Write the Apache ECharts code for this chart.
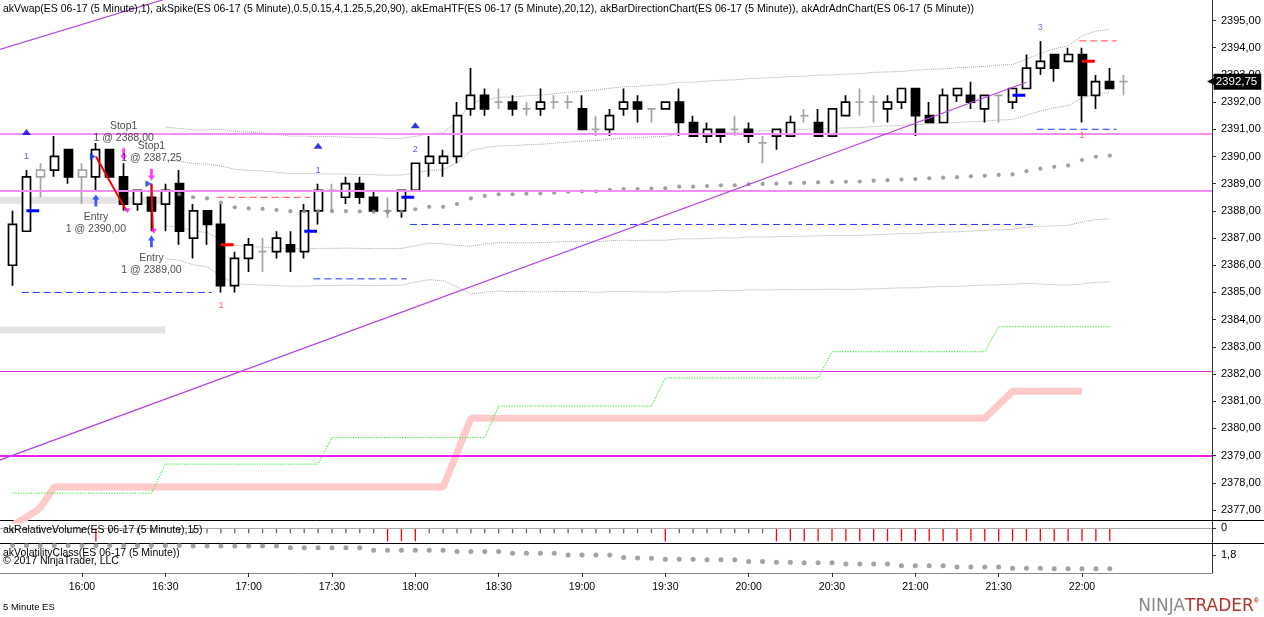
<!DOCTYPE html>
<html><head><meta charset="utf-8"><title>ES 06-17 (5 Minute)</title>
<script src="https://cdn.jsdelivr.net/npm/echarts@6.0.0/dist/echarts.min.js"></script>
<style>html,body{margin:0;padding:0;background:#fff;}#chart{width:1264px;height:617px;}</style>
</head><body><div id="chart"></div>
<script>
// ================= DATA =================
const firstBar = '15:35';          // time of first 5-minute bar
const ohlc = [                       // [open, high, low, close]
[2386.00,2388.00,2385.25,2387.50],[2387.25,2389.50,2387.25,2389.25],[2389.25,2389.75,2388.50,2389.50],
[2389.50,2390.75,2389.25,2390.00],[2390.25,2390.25,2389.00,2389.25],[2389.25,2389.75,2388.25,2389.50],
[2389.25,2390.50,2388.75,2390.25],[2390.25,2390.25,2389.25,2389.25],[2389.25,2389.75,2388.00,2388.25],
[2388.25,2388.75,2388.00,2388.75],[2388.50,2389.00,2387.25,2388.00],[2388.25,2389.00,2387.25,2388.75],
[2389.00,2389.50,2386.75,2387.25],[2387.00,2388.25,2386.25,2388.00],[2388.00,2388.00,2386.75,2387.50],
[2387.50,2388.25,2385.00,2385.25],[2385.25,2386.50,2385.00,2386.25],[2386.25,2387.00,2385.75,2386.75],
[2386.50,2387.00,2385.75,2386.50],[2386.50,2387.25,2386.25,2387.00],[2386.75,2387.25,2385.75,2386.50],
[2386.50,2388.25,2386.25,2388.00],[2388.00,2389.00,2387.50,2388.75],[2388.75,2389.00,2388.00,2388.75],
[2388.50,2389.25,2388.25,2389.00],[2389.00,2389.25,2388.25,2388.50],[2388.50,2388.75,2388.00,2388.00],
[2388.00,2388.50,2387.75,2388.00],[2388.00,2388.75,2387.75,2388.75],[2388.75,2389.75,2388.75,2389.75],
[2389.75,2390.75,2389.25,2390.00],[2389.75,2390.25,2389.25,2390.00],[2390.00,2392.00,2389.75,2391.50],
[2391.75,2393.25,2391.50,2392.25],[2392.25,2392.50,2391.50,2391.75],[2392.00,2392.50,2391.75,2392.00],
[2392.00,2392.25,2391.50,2391.75],[2391.75,2392.00,2391.50,2391.75],[2391.75,2392.50,2391.50,2392.00],
[2392.00,2392.25,2391.75,2392.00],[2392.00,2392.25,2391.75,2392.00],[2391.75,2392.25,2391.00,2391.00],
[2391.00,2391.50,2390.75,2391.00],[2391.00,2391.75,2390.75,2391.50],[2391.75,2392.50,2391.50,2392.00],
[2392.00,2392.25,2391.25,2391.75],[2391.75,2391.75,2391.25,2391.75],[2391.75,2392.00,2391.75,2392.00],
[2392.00,2392.50,2390.75,2391.25],[2391.25,2391.50,2390.75,2390.75],[2390.75,2391.25,2390.50,2391.00],
[2391.00,2391.00,2390.50,2390.75],[2391.00,2391.50,2390.75,2391.00],[2391.00,2391.25,2390.50,2390.75],
[2390.50,2390.75,2389.75,2390.50],[2390.75,2391.00,2390.25,2391.00],[2390.75,2391.50,2390.75,2391.25],
[2391.50,2391.75,2391.25,2391.50],[2391.25,2391.75,2390.75,2390.75],[2390.75,2391.75,2390.75,2391.75],
[2391.50,2392.25,2391.50,2392.00],[2392.00,2392.50,2391.50,2392.00],[2392.00,2392.25,2391.25,2392.00],
[2391.75,2392.25,2391.25,2392.00],[2392.00,2392.50,2391.75,2392.50],[2392.50,2392.50,2390.75,2391.50],
[2391.50,2392.00,2391.25,2391.25],[2391.25,2392.50,2391.25,2392.25],[2392.25,2392.50,2392.00,2392.50],
[2392.25,2392.75,2391.75,2392.00],[2391.75,2392.25,2391.25,2392.25],[2392.25,2392.25,2391.25,2392.25],
[2392.00,2392.50,2391.75,2392.50],[2392.50,2393.75,2392.50,2393.25],[2393.25,2394.25,2393.00,2393.50],
[2393.75,2393.75,2392.75,2393.25],[2393.50,2394.00,2393.50,2393.75],[2393.75,2394.00,2391.25,2392.25],
[2392.25,2393.00,2391.75,2392.75],[2392.75,2393.25,2392.50,2392.50],[2392.75,2393.00,2392.25,2392.75]
];
const neutralBars = [2,5,18,23,27,35,37,39,40,42,46,52,54,57,61,62,71,80];  // gray bars
const lastPrice = 2392.75;

const vwapStart = 11;                 // bar index of first VWAP value
const vwap = [2388.66,2388.61,2388.50,2388.46,2388.30,2388.13,2388.09,2388.07,2388.03,2387.99,
2387.99,2387.99,2387.99,2387.99,2387.98,2387.97,2387.96,2387.97,2388.06,2388.15,2388.15,2388.25,
2388.46,2388.55,2388.61,2388.61,2388.63,2388.64,2388.67,2388.70,2388.72,2388.72,2388.77,2388.80,
2388.80,2388.82,2388.83,2388.89,2388.89,2388.91,2388.94,2388.94,2388.98,2388.99,2389.00,2389.02,
2389.03,2389.05,2389.06,2389.07,2389.08,2389.11,2389.13,2389.15,2389.17,2389.20,2389.22,2389.24,
2389.27,2389.29,2389.32,2389.34,2389.46,2389.55,2389.62,2389.67,2389.87,2389.99,2390.03];
const vwapDev = [1.21,1.21,1.24,1.26,1.35,1.40,1.40,1.40,1.39,1.38,1.38,1.37,1.37,1.36,1.36,1.36,
1.35,1.35,1.34,1.34,1.36,1.52,1.76,1.77,1.78,1.79,1.80,1.81,1.82,1.83,1.84,1.86,1.87,1.88,1.89,1.90,
1.91,1.92,1.92,1.93,1.93,1.94,1.94,1.95,1.95,1.96,1.96,1.97,1.97,1.98,1.98,1.99,1.99,1.99,2.00,2.00,
2.00,2.01,2.01,2.01,2.02,2.02,2.06,2.12,2.17,2.20,2.28,2.31,2.32];

const adrLine = [2377.62,2377.62,2377.62,2377.62,2377.62,2377.62,2377.62,2377.62,2377.62,2377.62,2377.62,
2378.69,2378.69,2378.69,2378.69,2378.69,2378.69,2378.69,2378.69,2378.69,2378.69,2378.69,2378.69,
2379.66,2379.66,2379.66,2379.66,2379.66,2379.66,2379.66,2379.66,2379.66,2379.66,2379.66,2379.66,
2380.82,2380.82,2380.82,2380.82,2380.82,2380.82,2380.82,2380.82,2380.82,2380.82,2380.82,2380.82,
2381.86,2381.86,2381.86,2381.86,2381.86,2381.86,2381.86,2381.86,2381.86,2381.86,2381.86,2381.86,
2382.82,2382.82,2382.82,2382.82,2382.82,2382.82,2382.82,2382.82,2382.82,2382.82,2382.82,2382.82,
2383.74,2383.74,2383.74,2383.74,2383.74,2383.74,2383.74,2383.74,2383.74];
const adnLine = [2376.45,2376.73,2377.08,
2377.85,2377.85,2377.85,2377.85,2377.85,2377.85,2377.85,2377.85,2377.85,2377.85,2377.85,2377.85,2377.85,
2377.85,2377.85,2377.85,2377.85,2377.85,2377.85,2377.85,2377.85,2377.85,2377.85,2377.85,2377.85,2377.85,
2377.85,2377.85,2377.85,2379.10,
2380.37,2380.37,2380.37,2380.37,2380.37,2380.37,2380.37,2380.37,2380.37,2380.37,2380.37,2380.37,2380.37,
2380.37,2380.37,2380.37,2380.37,2380.37,2380.37,2380.37,2380.37,2380.37,2380.37,2380.37,2380.37,2380.37,
2380.37,2380.37,2380.37,2380.37,2380.37,2380.37,2380.37,2380.37,2380.37,2380.37,2380.37,2380.37,
2380.87,2381.37,2381.37,2381.37,2381.37,2381.37,2381.37];

const relVolume = [0.35,0.35,0.35,0.35,0.35,0.35,0.88,
0.35,0.35,0.35,0.35,0.35,0.35,0.35,0.35,0.35,0.35,0.35,0.35,0.35,0.35,0.35,0.35,0.35,0.35,0.35,0.35,
0.88,0.88,0.88,
0.35,0.35,0.35,0.35,0.35,0.35,0.35,0.35,0.35,0.35,0.35,0.35,0.35,0.35,0.35,0.35,0.35,
0.88,0.35,0.35,0.35,0.35,0.35,0.35,0.35,
0.88,0.88,0.88,0.88,0.88,0.88,0.88,0.88,0.88,0.88,0.88,0.88,0.88,0.88,0.88,0.88,0.88,0.88,0.88,0.88,
0.88,0.88,0.88,0.88,0.88];
const volatility = [1.96,1.96,1.96,1.96,1.96,1.96,1.96,1.96,1.96,1.96,1.96,1.96,1.96,
1.95,1.95,1.95,1.95,1.95,1.95,1.95,1.92,1.92,1.92,1.92,1.92,1.92,1.88,1.88,1.88,1.88,1.88,1.88,
1.86,1.86,1.86,1.86,1.83,1.83,1.83,1.83,1.80,1.80,1.80,1.80,1.76,1.75,1.745,1.73,1.73,1.73,
1.72,1.72,1.72,1.69,1.69,1.68,1.68,1.67,1.67,1.67,1.65,1.65,1.65,1.65,1.62,1.62,1.62,1.62,
1.60,1.60,1.60,1.60,1.58,1.58,1.58,1.57,1.57,1.57,1.57,1.57];

const priceTicks = [2377,2378,2379,2380,2381,2382,2383,2384,2385,2386,2387,2388,2389,2390,2391,2392,2393,2394,2395];
const timeTicks = ['16:00','16:30','17:00','17:30','18:00','18:30','19:00','19:30','20:00','20:30','21:00','21:30','22:00'];

// horizontal levels: [price, kind]
const levels = [[2390.83,'pink'],[2388.75,'pink'],[2382.10,'thin'],[2379.00,'strong']];
// earlier-session zones (gray): [fromTime, toTime, price]
const zones = [['15:30','16:30',2388.39],['15:30','16:30',2383.62]];
// dashed levels: [fromMinute, toMinute, price] (minutes after 16:00)
const blueDashed = [[-21.7,46.7,2385.00],[83.3,116.9,2385.50],[118.1,342.5,2387.50],[343.7,372.5,2391.00]];
const redDashed = [[48.5,82.1,2388.50],[359.0,372.5,2394.25]];
// short EMA ticks: [bar, price]
const blueTicks = [[1,2388.00],[21,2387.25],[28,2388.50],[72,2392.25]];
const redTicks = [[15,2386.75],[77,2393.50]];
// spike signals
const upSignals = [[1,'1',true],[22,'1',true],[29,'2',true],[74,'3',false]];
const downSignals = [[15,'1'],[77,'1']];
// trend lines: [[minute, price],[minute, price]]
const trendLines = [[[-30,2378.82],[340,2392.73]],[[-30,2393.92],[40,2396.10]]];
// trades
const trades = [
  {entryBar:6, entryPrice:2390.00, exitBar:8, exitPrice:2388.00, exitName:'Stop1'},
  {entryBar:10, entryPrice:2389.00, exitBar:10, exitPrice:2387.25, exitName:'Stop1'}
];
const indicatorTitle = 'akVwap(ES 06-17 (5 Minute),1), akSpike(ES 06-17 (5 Minute),0.5,0.15,4,1.25,5,20,90), akEmaHTF(ES 06-17 (5 Minute),20,12), akBarDirectionChart(ES 06-17 (5 Minute)), akAdrAdnChart(ES 06-17 (5 Minute))';

// ================= HELPERS =================
const pad = n => String(n).padStart(2, '0');
const toMin = s => { const p = s.split(':').map(Number); return p[0] * 60 + p[1] - 960; };
const fmtTime = t => { const m = 960 + Math.round(t); return pad(Math.floor(m / 60)) + ':' + pad(m % 60); };
const fmtPrice = v => v.toFixed(2).replace('.', ',');
const t0 = toMin(firstBar);
const barT = i => t0 + 5 * i;
const FONT = "'Liberation Sans', Arial, sans-serif";
const FS = 10.5;
const X_MIN = -29.52, X_MAX = 406.8;

const GRAY = '#a4a4a4';
const candleData = ohlc.map((r, i) => {
  const item = { value: [barT(i), r[0], r[3], r[2], r[1]] };
  if (neutralBars.includes(i)) item.itemStyle = { color: '#fff', color0: '#fff', borderColor: GRAY, borderColor0: GRAY, borderColorDoji: GRAY };
  return item;
});

const series = [];
const seg = (pts, style, z, extra) => Object.assign({
  type: 'line', xAxisIndex: 0, yAxisIndex: 0, data: pts, showSymbol: false, symbol: 'none',
  silent: true, z: z, lineStyle: style, clip: true
}, extra || {});

// horizontal level lines
const levelStyle = {
  pink: { color: '#f38ef3', width: 2, type: 'solid' },
  thin: { color: '#dd33dd', width: 1, type: 'solid' },
  strong: { color: '#f01ef0', width: 2, type: 'solid' }
};
series.push(seg([], {}, 1, {
  markLine: {
    silent: true, symbol: ['none', 'none'], animation: false, label: { show: false },
    data: levels.map(l => ({ yAxis: l[0], lineStyle: levelStyle[l[1]] }))
  }
}));
// gray zones
zones.forEach(z => series.push(seg([[toMin(z[0]), z[2]], [toMin(z[1]), z[2]]], { color: '#e4e4e4', width: 7 }, 1)));
// ADR/ADN lines
series.push(seg(adnLine.map((v, i) => [barT(i), v]), { color: '#ffcaca', width: 7 }, 1));
series.push(seg(adrLine.map((v, i) => [barT(i), v]), { color: '#5fe85f', width: 1.3, type: 'dotted' }, 1));
// VWAP bands
[2, 1, -1, -2].forEach(k => series.push(seg(vwap.map((v, j) => [barT(vwapStart + j), v + k * vwapDev[j]]),
  { color: '#a8a8a8', width: 1, type: 'dotted' }, 2)));
// dashed levels
blueDashed.forEach(d => series.push(seg([[d[0], d[2]], [d[1], d[2]]], { color: '#2233ff', width: 1, type: [7, 4] }, 2)));
redDashed.forEach(d => series.push(seg([[d[0], d[2]], [d[1], d[2]]], { color: '#ff4444', width: 1, type: [7, 4] }, 2)));
// candles
series.push({
  type: 'candlestick', xAxisIndex: 0, yAxisIndex: 0, data: candleData, barWidth: 8.5, z: 3, silent: true,
  encode: { x: 0, y: [1, 2, 3, 4] },
  itemStyle: { color: '#fff', color0: '#000', borderColor: '#000', borderColor0: '#000', borderColorDoji: '#000', borderWidth: 1.7 }
});
// last price marker on the axis
series.push(seg([], {}, 10, {
  markLine: {
    silent: true, symbol: ['none', 'none'], animation: false,
    lineStyle: { color: 'rgba(0,0,0,0)', width: 1, type: 'solid' },
    data: [{ yAxis: lastPrice }],
    label: { show: true, position: 'end', distance: -5, formatter: '{a|◀}{b|' + fmtPrice(lastPrice) + '}',
      rich: {
        a: { color: '#000', fontSize: 10, fontFamily: "'DejaVu Sans', sans-serif", padding: [0, -1, 0, 0] },
        b: { color: '#fff', backgroundColor: '#000', padding: [2, 4, 2, 2], fontFamily: FONT, fontSize: 11.5 }
      } }
  }
}));
// short EMA ticks
blueTicks.forEach(b => series.push(seg([[barT(b[0]), b[1]], [barT(b[0]) + 4.6, b[1]]], { color: '#0000ff', width: 3 }, 4)));
redTicks.forEach(b => series.push(seg([[barT(b[0]), b[1]], [barT(b[0]) + 4.6, b[1]]], { color: '#ff0000', width: 3 }, 4)));
// VWAP dots
series.push({
  type: 'scatter', xAxisIndex: 0, yAxisIndex: 0, silent: true, z: 4, symbolSize: 4.2,
  itemStyle: { color: '#8a8a8a' },
  data: vwap.map((v, j) => [barT(vwapStart + j), v]).filter((p, j) => vwapStart + j >= 12)
});
// trend lines
trendLines.forEach(l => series.push(seg(l, { color: '#b446e6', width: 1.2 }, 5)));
// trade connection lines
trades.forEach(tr => series.push(seg([[barT(tr.entryBar), tr.entryPrice], [barT(tr.exitBar) + (tr.exitBar === tr.entryBar ? 0.5 : 1), tr.exitPrice]],
  { color: '#ff0000', width: 2 }, 5)));

const clear = { color: 'rgba(0,0,0,0)' };
const txt = (data, color, size, offset, z) => ({
  type: 'scatter', xAxisIndex: 0, yAxisIndex: 0, silent: true, z: z || 6, symbolSize: 1, itemStyle: clear,
  data: data,
  label: { show: true, position: 'inside', offset: offset, formatter: p => p.name, color: color,
    fontFamily: FONT, fontSize: size, lineHeight: 12, align: 'center', verticalAlign: 'middle' }
});
// spike signals
series.push({
  type: 'scatter', xAxisIndex: 0, yAxisIndex: 0, silent: true, z: 6, symbol: 'triangle', symbolSize: [9, 6],
  symbolOffset: [0, -38], itemStyle: { color: '#0000dd' },
  data: upSignals.filter(s => s[2]).map(s => [barT(s[0]), ohlc[s[0]][1]])
});
series.push(txt(upSignals.filter(s => s[0] !== 74).map(s => ({ name: s[1], value: [barT(s[0]), ohlc[s[0]][1]] })), '#2b2bff', 9, [0, -13.5]));
series.push(txt(upSignals.filter(s => s[0] === 74).map(s => ({ name: s[1], value: [barT(s[0]), ohlc[s[0]][1]] })), '#6c3fd6', 9, [0, -13.5]));
series.push(txt(downSignals.map(s => ({ name: s[1], value: [barT(s[0]), ohlc[s[0]][2]] })), '#ff3030', 9, [0, 13.5]));
// trade annotations
const UP_ARROW = 'path://M5 0 L10 6 L7 6 L7 14 L3 14 L3 6 L0 6 Z';
const DOWN_ARROW = 'path://M3 0 L7 0 L7 8 L10 8 L5 14 L0 8 L3 8 Z';
series.push({
  type: 'scatter', xAxisIndex: 0, yAxisIndex: 0, silent: true, z: 6, symbol: UP_ARROW, symbolSize: [7, 12],
  symbolOffset: [0, 10], itemStyle: { color: '#1030ff' },
  data: trades.map(tr => [barT(tr.entryBar), ohlc[tr.entryBar][2]])
});
series.push({
  type: 'scatter', xAxisIndex: 0, yAxisIndex: 0, silent: true, z: 6, symbol: DOWN_ARROW, symbolSize: [7, 12],
  symbolOffset: [0, -9], itemStyle: { color: '#ff10ff' },
  data: trades.map(tr => [barT(tr.exitBar), ohlc[tr.exitBar][1]])
});
series.push({
  type: 'scatter', xAxisIndex: 0, yAxisIndex: 0, silent: true, z: 6, symbol: 'triangle', symbolSize: [7, 6], symbolRotate: -90,
  symbolOffset: [-3, 0], itemStyle: { color: '#1030ff' },
  data: trades.map(tr => [barT(tr.entryBar), tr.entryPrice])
});
series.push({
  type: 'scatter', xAxisIndex: 0, yAxisIndex: 0, silent: true, z: 6, symbol: 'triangle', symbolSize: [6, 5], symbolRotate: 180,
  symbolOffset: [1, 0], itemStyle: { color: '#ff10ff' },
  data: trades.map(tr => [barT(tr.exitBar) + (tr.exitBar === tr.entryBar ? 0.5 : 1), tr.exitPrice])
});
series.push(txt(trades.map(tr => ({ name: 'Entry\n1 @ ' + fmtPrice(tr.entryPrice), value: [barT(tr.entryBar), ohlc[tr.entryBar][2]] })), '#222', FS, [0, 33]));
series.push(txt(trades.map(tr => ({ name: tr.exitName + '\n1 @ ' + fmtPrice(tr.exitPrice), value: [barT(tr.exitBar), ohlc[tr.exitBar][1]] })), '#222', FS, [0, -31.5]));

// relative volume panel
series.push({
  type: 'bar', xAxisIndex: 1, yAxisIndex: 1, silent: true, barWidth: 1.3,
  data: relVolume.map((v, i) => ({ value: [barT(i), v], itemStyle: { color: v > 0.6 ? '#ff0000' : '#666' } })),
  markLine: { silent: true, symbol: ['none', 'none'], animation: false, label: { show: false },
    lineStyle: { color: '#a8a8a8', width: 1, type: 'solid' }, data: [{ yAxis: 0 }] }
});
// volatility panel
series.push({
  type: 'scatter', xAxisIndex: 2, yAxisIndex: 2, silent: true, symbolSize: 5,
  itemStyle: { color: '#8c8c8c' }, data: volatility.map((v, i) => [barT(i), v])
});

const hiddenX = gi => ({ type: 'value', gridIndex: gi, min: X_MIN, max: X_MAX, show: false, axisLine: { onZero: false }, splitLine: { show: false } });
// full-width panel separators drawn as bare axis lines of a full-width grid
const separatorX = pos => ({ type: 'value', gridIndex: 3, position: pos, min: 0, max: 1, show: true,
  axisLine: { show: true, onZero: false, lineStyle: { color: '#000', width: 1 } },
  axisTick: { show: false }, axisLabel: { show: false }, splitLine: { show: false } });
const axisCol = '#333';
const plain = (extra) => Object.assign({ fontSize: FS, fontWeight: 'normal', color: '#000', fontFamily: FONT }, extra || {});
const option = {
  animation: false,
  backgroundColor: '#fff',
  textStyle: { fontFamily: FONT },
  title: [
    { text: indicatorTitle, left: 3, top: 4, padding: 0, textStyle: plain() },
    { text: 'akRelativeVolume(ES 06-17 (5 Minute),15)', left: 3, top: 525, padding: 0, textStyle: plain() },
    { text: 'akVolatilityClass(ES 06-17 (5 Minute))', left: 3, top: 548, padding: 0, textStyle: plain() },
    { text: '© 2017 NinjaTrader, LLC', left: 3, top: 555.5, padding: 0, textStyle: plain() },
    { text: '5 Minute ES', left: 3, top: 602, padding: 0, textStyle: plain({ fontSize: 9.5 }) },
    { text: '{n|NINJA}{t|TRADER}{r|®}', right: 5, top: 598, padding: 0,
      textStyle: { rich: {
        n: { fontSize: 17, color: '#8a8a8a', fontFamily: "'DejaVu Sans', sans-serif", fontWeight: 'normal' },
        t: { fontSize: 17, color: '#b0362c', fontFamily: "'DejaVu Sans', sans-serif", fontWeight: 'normal' },
        r: { fontSize: 7, color: '#b0362c', verticalAlign: 'top', fontFamily: FONT } } } }
  ],
  grid: [
    { left: 0, right: 52, top: 0, height: 520 },
    { left: 0, right: 52, top: 520, height: 23 },
    { left: 0, right: 52, top: 543, height: 30 },
    { left: 0, right: 0, top: 520, height: 23 }
  ],
  xAxis: [
    hiddenX(0), hiddenX(1),
    { type: 'value', gridIndex: 2, min: X_MIN, max: X_MAX, position: 'bottom',
      axisLine: { show: true, onZero: false, lineStyle: { color: '#8a8a8a', width: 1 } },
      axisTick: { show: true, customValues: timeTicks.map(toMin), length: 4, lineStyle: { color: '#333' } },
      axisLabel: { show: true, customValues: timeTicks.map(toMin), formatter: v => fmtTime(v), color: '#000', fontSize: FS, margin: 9, fontFamily: FONT },
      splitLine: { show: false } },
    separatorX('top'), separatorX('bottom')
  ],
  yAxis: [
    { type: 'value', gridIndex: 0, position: 'right', min: 2376.632, max: 2395.754,
      axisLine: { show: true, onZero: false, lineStyle: { color: axisCol } },
      axisTick: { show: true, customValues: priceTicks, length: 4, lineStyle: { color: axisCol } },
      axisLabel: { show: true, customValues: priceTicks, formatter: v => fmtPrice(v), color: '#000', fontSize: 11, margin: 9, fontFamily: FONT },
      splitLine: { show: false } },
    { type: 'value', gridIndex: 1, position: 'right', inverse: true, min: -0.53, max: 1.0,
      axisLine: { show: true, onZero: false, lineStyle: { color: axisCol } },
      axisTick: { show: true, customValues: [0], length: 4, lineStyle: { color: axisCol } },
      axisLabel: { show: true, customValues: [0], formatter: v => String(v), color: '#000', fontSize: 11, margin: 9, fontFamily: FONT },
      splitLine: { show: false } },
    { type: 'value', gridIndex: 2, position: 'right', min: 1.5, max: 2.0,
      axisLine: { show: true, onZero: false, lineStyle: { color: axisCol } },
      axisTick: { show: true, customValues: [1.8], length: 4, lineStyle: { color: axisCol } },
      axisLabel: { show: true, customValues: [1.8], formatter: v => String(v).replace('.', ','), color: '#000', fontSize: 11, margin: 9, fontFamily: FONT },
      splitLine: { show: false } },
    { type: 'value', gridIndex: 3, show: false, min: 0, max: 1, axisLine: { show: false, onZero: false }, splitLine: { show: false } }
  ],
  series: series
};
const chart = echarts.init(document.getElementById('chart'), null, { renderer: 'canvas' });
chart.setOption(option);
</script>
</body></html>
